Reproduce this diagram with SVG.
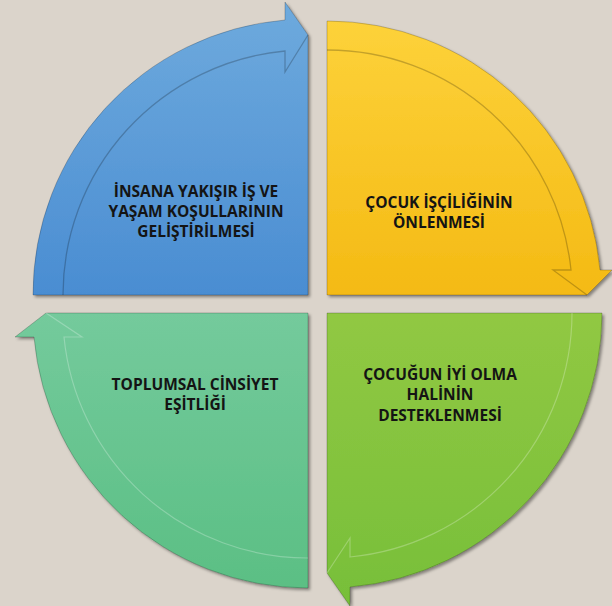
<svg xmlns="http://www.w3.org/2000/svg" width="612" height="606" viewBox="0 0 612 606">
<defs>
<linearGradient id="gBlue" x1="0" y1="0" x2="0" y2="1"><stop offset="0" stop-color="#6eaadd"/><stop offset="1" stop-color="#4a8dd2"/></linearGradient>
<linearGradient id="gYellow" x1="0" y1="0" x2="0" y2="1"><stop offset="0" stop-color="#fdd23a"/><stop offset="1" stop-color="#f4ba14"/></linearGradient>
<linearGradient id="gTeal" x1="0" y1="0" x2="0" y2="1"><stop offset="0" stop-color="#74ca9c"/><stop offset="1" stop-color="#5bbf84"/></linearGradient>
<linearGradient id="gLime" x1="0" y1="0" x2="0" y2="1"><stop offset="0" stop-color="#91c843"/><stop offset="1" stop-color="#77bf39"/></linearGradient>
<filter id="sh" x="-10%" y="-10%" width="120%" height="120%"><feDropShadow dx="2" dy="2" stdDeviation="1.5" flood-color="#000" flood-opacity="0.4"/></filter>
</defs>
<style>
.shape{stroke:rgba(0,0,0,0.25);stroke-width:0.8;filter:url(#sh)}
.inner{fill:none;stroke:rgba(0,0,0,0.22);stroke-width:1.3}
.inner.faint{stroke:rgba(255,255,255,0.25);stroke-width:1.2}
.lbl{font-family:"Open Sans","Liberation Sans",sans-serif;font-weight:bold;font-size:15.5px;fill:#141414;text-anchor:middle}
</style>
<rect width="612" height="606" fill="#dbd4cb"/>
<g id="node-blue">
<path class="shape" fill="url(#gBlue)" d="M308,295 L33,295 A275,275 0 0 1 285,20 L285,2 L308,35 Z"/>
<path class="inner" d="M63,295 A245,245 0 0 1 285,51 L285,72 L308,35"/>
<text class="lbl" x="196" y="197">İNSANA YAKIŞIR İŞ VE</text>
<text class="lbl" x="196" y="217">YAŞAM KOŞULLARININ</text>
<text class="lbl" x="196" y="237">GELİŞTİRİLMESİ</text>
</g>
<g id="node-yellow">
<path class="shape" fill="url(#gYellow)" d="M327,295 L327,21 A274,274 0 0 1 600,270 L612,270 L587,295 Z"/>
<path class="inner" d="M327,50 A245,245 0 0 1 571,270 L553,270 L587,295"/>
<text class="lbl" x="439" y="208">ÇOCUK İŞÇİLİĞİNİN</text>
<text class="lbl" x="439" y="228">ÖNLENMESİ</text>
</g>
<g id="node-lime">
<path class="shape" fill="url(#gLime)" d="M327,313 L602,313 A275,275 0 0 1 350,587 L350,606 L327,573 Z"/>
<path class="inner faint" d="M572,313 A245,245 0 0 1 350,557 L350,538 L327,573"/>
<text class="lbl" x="440" y="380">ÇOCUĞUN İYİ OLMA</text>
<text class="lbl" x="440" y="400">HALİNİN</text>
<text class="lbl" x="440" y="420.5">DESTEKLENMESİ</text>
</g>
<g id="node-teal">
<path class="shape" fill="url(#gTeal)" d="M308,313 L308,588 A275,275 0 0 1 34,337 L15,337 L46,313 Z"/>
<path class="inner faint" d="M308,558 A245,245 0 0 1 64,337 L82,337 L46,313"/>
<text class="lbl" x="195" y="390">TOPLUMSAL CİNSİYET</text>
<text class="lbl" x="195" y="410">EŞİTLİĞİ</text>
</g>
<g id="connectors"/>
</svg>
